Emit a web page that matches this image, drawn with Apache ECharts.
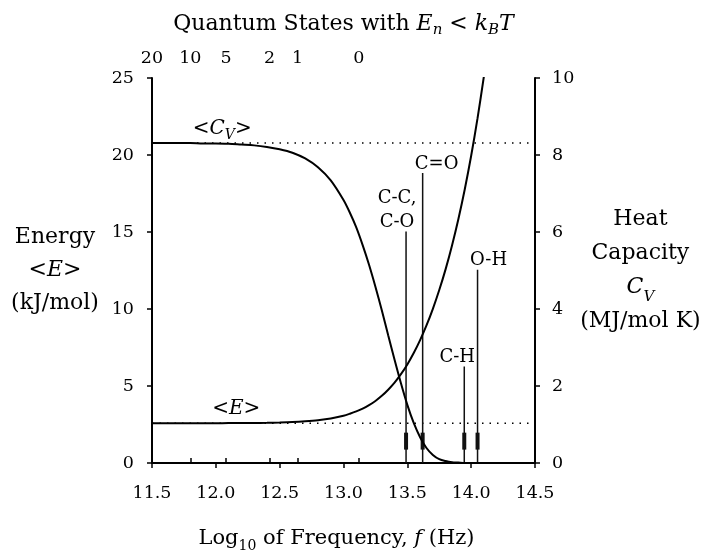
<!DOCTYPE html>
<html><head><meta charset="utf-8">
<script src="https://cdn.jsdelivr.net/npm/echarts@6/dist/echarts.min.js"></script>
<style>html,body{margin:0;padding:0;background:#fff}#c{width:705px;height:550px}</style>
</head><body><div id="c"></div>
<script>
// ---- data ----
const logFreq = [11.5, 11.6, 11.7, 11.8, 11.9, 12.0, 12.1, 12.2, 12.3, 12.4, 12.5, 12.6, 12.7, 12.8, 12.9, 13.0,
  13.05, 13.1, 13.15, 13.2, 13.25, 13.3, 13.35, 13.4, 13.45, 13.5, 13.55, 13.6, 13.65, 13.7, 13.75, 13.8,
  13.85, 13.9, 13.95, 14.0, 14.05, 14.1, 14.2, 14.3, 14.4, 14.5];
const energy = [2.58, 2.58, 2.58, 2.58, 2.58, 2.58, 2.59, 2.59, 2.60, 2.61, 2.63, 2.66, 2.71, 2.78, 2.89, 3.07,
  3.20, 3.35, 3.53, 3.76, 4.03, 4.36, 4.76, 5.22, 5.77, 6.40, 7.14, 7.98, 8.93, 10.01, 11.23, 12.59,
  14.13, 15.85, 17.78, 19.95, 22.39, 25.12, null, null, null, null];
const heatCap = [8.31, 8.31, 8.31, 8.31, 8.30, 8.30, 8.29, 8.27, 8.25, 8.21, 8.15, 8.06, 7.91, 7.68, 7.34, 6.83,
  6.50, 6.12, 5.66, 5.15, 4.58, 3.97, 3.32, 2.68, 2.07, 1.51, 1.04, 0.67, 0.39, 0.21, 0.10, 0.05,
  0.02, 0.01, 0.00, 0.00, 0.00, 0.00, 0.00, 0.00, 0.00, 0.00];
const energyPlateau = 2.58;
const heatCapPlateau = 8.31;
const quantumTickPos = [11.50, 11.80, 12.08, 12.42, 12.64, 13.12];
const quantumTickLabels = ['20', '10', '5', '2', '1', '0'];
const bondNames = ['C-C,\nC-O', 'C=O', 'C-H', 'O-H'];
const bondFreq = [13.49, 13.62, 13.946, 14.05];
const bondTop = [15.04, 18.83, 6.27, 12.55];
const arrowSpan = [1.97, 0.87];

// ---- chart ----
const FONT = 'DejaVu Serif';
const BLACK = '#000';
function richSet(size, subSize, lh, subLh) {
  const base = {fontFamily: FONT, color: BLACK};
  return {
    n: Object.assign({}, base, {fontSize: size, lineHeight: lh}),
    i: Object.assign({}, base, {fontSize: size, lineHeight: lh, fontStyle: 'italic'}),
    s: Object.assign({}, base, {fontSize: subSize, lineHeight: subLh, verticalAlign: 'bottom'}),
    si: Object.assign({}, base, {fontSize: subSize, lineHeight: subLh, verticalAlign: 'bottom', fontStyle: 'italic'})
  };
}
const axisLineStyle = {show: true, lineStyle: {color: BLACK, width: 2}};
const tickStyle = {show: true, length: 5, lineStyle: {color: BLACK, width: 1.5}};
const labelStyle = {fontFamily: FONT, fontSize: 17.5, color: BLACK};

const pairs = (ys) => logFreq.map((x, k) => [x, ys[k]]);

const series = [
  {type: 'line', data: pairs(energy), xAxisIndex: 0, yAxisIndex: 0, symbol: 'none', smooth: 0.3,
   lineStyle: {color: BLACK, width: 2}, z: 5},
  {type: 'line', data: pairs(heatCap), xAxisIndex: 0, yAxisIndex: 1, symbol: 'none', smooth: 0.3,
   lineStyle: {color: BLACK, width: 2}, z: 5},
  {type: 'line', data: [[11.5, energyPlateau], [14.5, energyPlateau]], yAxisIndex: 0, symbol: 'none',
   lineStyle: {color: BLACK, width: 1.5, type: [1.5, 6]}, z: 3},
  {type: 'line', data: [[11.5, heatCapPlateau], [14.5, heatCapPlateau]], yAxisIndex: 1, symbol: 'none',
   lineStyle: {color: BLACK, width: 1.5, type: [1.5, 6]}, z: 3}
];
bondFreq.forEach((f, k) => {
  series.push({type: 'line', data: [[f, bondTop[k]], [f, 0]], yAxisIndex: 0, symbol: 'none',
    lineStyle: {color: '#111', width: 1.5}, z: 4});
  series.push({type: 'line', data: [[f, arrowSpan[0]], [f, arrowSpan[1]]], yAxisIndex: 0, symbol: 'none',
    lineStyle: {color: '#111', width: 4}, z: 4});
});
const bondLabelDx = [-9, 14, -7, 11];
const hiddenPoint = {symbol: 'circle', symbolSize: 0, itemStyle: {color: BLACK, opacity: 1}, z: 6, silent: true};
series.push(Object.assign({}, hiddenPoint, {
  type: 'scatter', yAxisIndex: 0,
  data: bondFreq.map((f, k) => ({value: [f, bondTop[k]], name: bondNames[k],
    label: {offset: [bondLabelDx[k], 3]}})),
  label: {show: true, position: 'top', distance: 0, formatter: p => p.name, opacity: 1,
    fontFamily: FONT, fontSize: 18, lineHeight: 24, color: BLACK, align: 'center'}
}));
series.push(Object.assign({}, hiddenPoint, {
  type: 'scatter', yAxisIndex: 1,
  data: [{value: [12.05, heatCapPlateau]}],
  label: {show: true, position: 'top', distance: 1, formatter: '{n|<}{i|C}{si|V}{n|>}', color: BLACK, opacity: 1,
    rich: richSet(20, 14, 26, 16)}
}));
series.push(Object.assign({}, hiddenPoint, {
  type: 'scatter', yAxisIndex: 0,
  data: [{value: [12.16, energyPlateau]}],
  label: {show: true, position: 'top', distance: 1, formatter: '{n|<}{i|E}{n|>}', color: BLACK, opacity: 1,
    rich: richSet(20, 14, 26, 16)}
}));

const option = {
  animation: false,
  backgroundColor: '#fff',
  grid: {left: 152, right: 170, top: 78, bottom: 87, containLabel: false, outerBoundsMode: 'none'},
  xAxis: [
    {type: 'value', position: 'bottom', min: 11.5, max: 14.5, interval: 0.5,
     axisLine: axisLineStyle, axisTick: tickStyle, splitLine: {show: false},
     axisLabel: Object.assign({}, labelStyle, {margin: 21, formatter: v => v.toFixed(1)}),
     name: '{n|Log}{s|10}{n| of Frequency, }{i|f}{n| (Hz)}',
     nameLocation: 'middle', nameGap: 76,
     nameTextStyle: {rich: richSet(21, 14, 28, 16), align: 'center', verticalAlign: 'middle', padding: [0, 14, 0, 0]}},
    {type: 'value', position: 'top', min: 11.5, max: 14.5,
     axisLine: axisLineStyle, splitLine: {show: false},
     axisTick: Object.assign({}, tickStyle, {customValues: quantumTickPos}),
     axisLabel: Object.assign({}, labelStyle, {margin: 11, customValues: quantumTickPos,
       formatter: v => {
         let best = 0;
         quantumTickPos.forEach((p, k) => { if (Math.abs(p - v) < Math.abs(quantumTickPos[best] - v)) best = k; });
         return quantumTickLabels[best];
       }}),
     name: '{n|Quantum States with }{i|E}{si|n}{n| < }{i|k}{si|B}{i|T}',
     nameLocation: 'middle', nameGap: 54,
     nameTextStyle: {rich: richSet(22, 15, 28, 16), align: 'center', verticalAlign: 'middle'}}
  ],
  yAxis: [
    {type: 'value', position: 'left', min: 0, max: 25, interval: 5,
     axisLine: axisLineStyle, axisTick: tickStyle, splitLine: {show: false},
     axisLabel: Object.assign({}, labelStyle, {margin: 18}),
     name: '{n|Energy}\n{n|<}{i|E}{n|>}\n{n|(kJ/mol)}',
     nameLocation: 'middle', nameGap: 97, nameRotate: 0,
     nameTextStyle: {rich: richSet(22, 15, 33, 18), align: 'center', verticalAlign: 'middle'}},
    {type: 'value', position: 'right', min: 0, max: 10, interval: 2,
     axisLine: axisLineStyle, axisTick: tickStyle, splitLine: {show: false},
     axisLabel: Object.assign({}, labelStyle, {margin: 17}),
     name: '{n|Heat}\n{n|Capacity}\n{i|C}{si|V}\n{n|(MJ/mol K)}',
     nameLocation: 'middle', nameGap: 105, nameRotate: 0,
     nameTextStyle: {rich: richSet(22, 15, 34, 20), align: 'center', verticalAlign: 'middle'}}
  ],
  series: series
};
const chart = echarts.init(document.getElementById('c'));
chart.setOption(option);
</script>
</body></html>
